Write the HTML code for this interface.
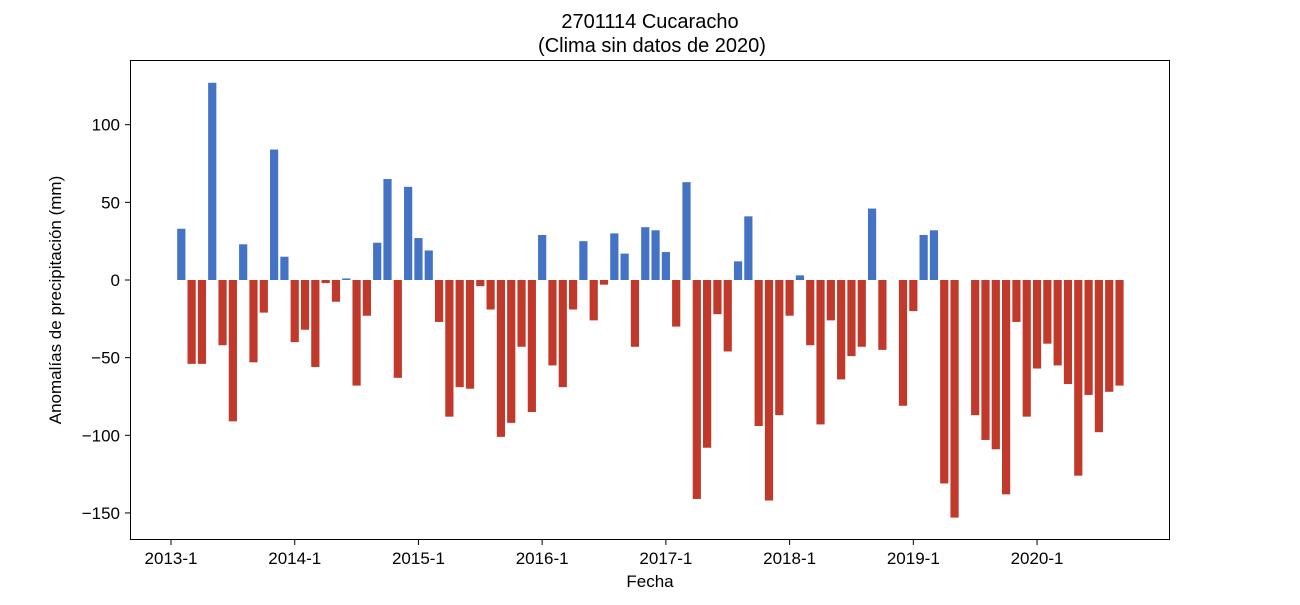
<!DOCTYPE html>
<html><head><meta charset="utf-8"><style>
body{margin:0;background:#fff;}
svg text{font-family:"Liberation Sans","DejaVu Sans",sans-serif;fill:#000;}
</style></head><body>
<svg id="chart" width="1300" height="600" xmlns="http://www.w3.org/2000/svg">
<text x="650" y="28" text-anchor="middle" font-size="20">2701114 Cucaracho</text>
<text x="652" y="52" text-anchor="middle" font-size="20">(Clima sin datos de 2020)</text>
<g id="bars"></g>
<g id="axes"></g>
<rect x="130.5" y="60.5" width="1039" height="479" fill="none" stroke="#000" stroke-width="1"/>
<text x="650" y="587" text-anchor="middle" font-size="17">Fecha</text>
<text transform="translate(61,300) rotate(-90)" text-anchor="middle" font-size="17">Anomalías de precipitación (mm)</text>
</svg>
<script>
// months from 2013-2 to 2020-9; null = missing
const startMonth = 1; // index of 2013-2 relative to 2013-1
const values = [33,-54,-54,127,-42,-91,23,-53,-21,84,15,
-40,-32,-56,-2,-14,1,-68,-23,24,65,-63,60,
27,19,-27,-88,-69,-70,-4,-19,-101,-92,-43,-85,
29,-55,-69,-19,25,-26,-3,30,17,-43,34,32,
18,-30,63,-141,-108,-22,-46,12,41,-94,-142,-87,
-23,3,-42,-93,-26,-64,-49,-43,46,-45,null,-81,
-20,29,32,-131,-153,null,-87,-103,-109,-138,-27,-88,
-57,-41,-55,-67,-126,-74,-98,-72,-68];
const xTickLabels = ["2013-1","2014-1","2015-1","2016-1","2017-1","2018-1","2019-1","2020-1"];
const xTickMonths = [0,12,24,36,48,60,72,84];
const yTicks = [100,50,0,-50,-100,-150];

const NS="http://www.w3.org/2000/svg";
const x0=171, mpx=10.31;
const xScale=m=>x0+m*mpx;
const yScale=v=>280-v*1.553;
const bw=8.2;
const bars=document.getElementById('bars');
values.forEach((v,i)=>{
  if(v===null) return;
  const r=document.createElementNS(NS,'rect');
  const cx=xScale(startMonth+i);
  const y1=yScale(Math.max(v,0)), y2=yScale(Math.min(v,0));
  r.setAttribute('x',cx-bw/2);
  r.setAttribute('y',y1);
  r.setAttribute('width',bw);
  r.setAttribute('height',Math.max(y2-y1,0.5));
  r.setAttribute('fill',v>=0?'#4472c4':'#c0392b');
  
  
  bars.appendChild(r);
});
const axes=document.getElementById('axes');
yTicks.forEach(t=>{
  const y=yScale(t);
  const l=document.createElementNS(NS,'line');
  l.setAttribute('x1',125);l.setAttribute('x2',130);l.setAttribute('y1',y);l.setAttribute('y2',y);
  l.setAttribute('stroke','#000');
  
  
  axes.appendChild(l);
  const tx=document.createElementNS(NS,'text');
  tx.setAttribute('x',120);tx.setAttribute('y',y+6);tx.setAttribute('text-anchor','end');tx.setAttribute('font-size','17');
  tx.textContent=(t<0?'\u2212'+(-t):t);
  
  
  axes.appendChild(tx);
});
xTickMonths.forEach((m,i)=>{
  const x=xScale(m);
  const l=document.createElementNS(NS,'line');
  l.setAttribute('x1',x);l.setAttribute('x2',x);l.setAttribute('y1',540);l.setAttribute('y2',545);
  l.setAttribute('stroke','#000');
  
  
  axes.appendChild(l);
  const tx=document.createElementNS(NS,'text');
  tx.setAttribute('x',x);tx.setAttribute('y',564);tx.setAttribute('text-anchor','middle');tx.setAttribute('font-size','17');
  tx.textContent=xTickLabels[i];
  
  
  axes.appendChild(tx);
});
</script>
</body></html>
